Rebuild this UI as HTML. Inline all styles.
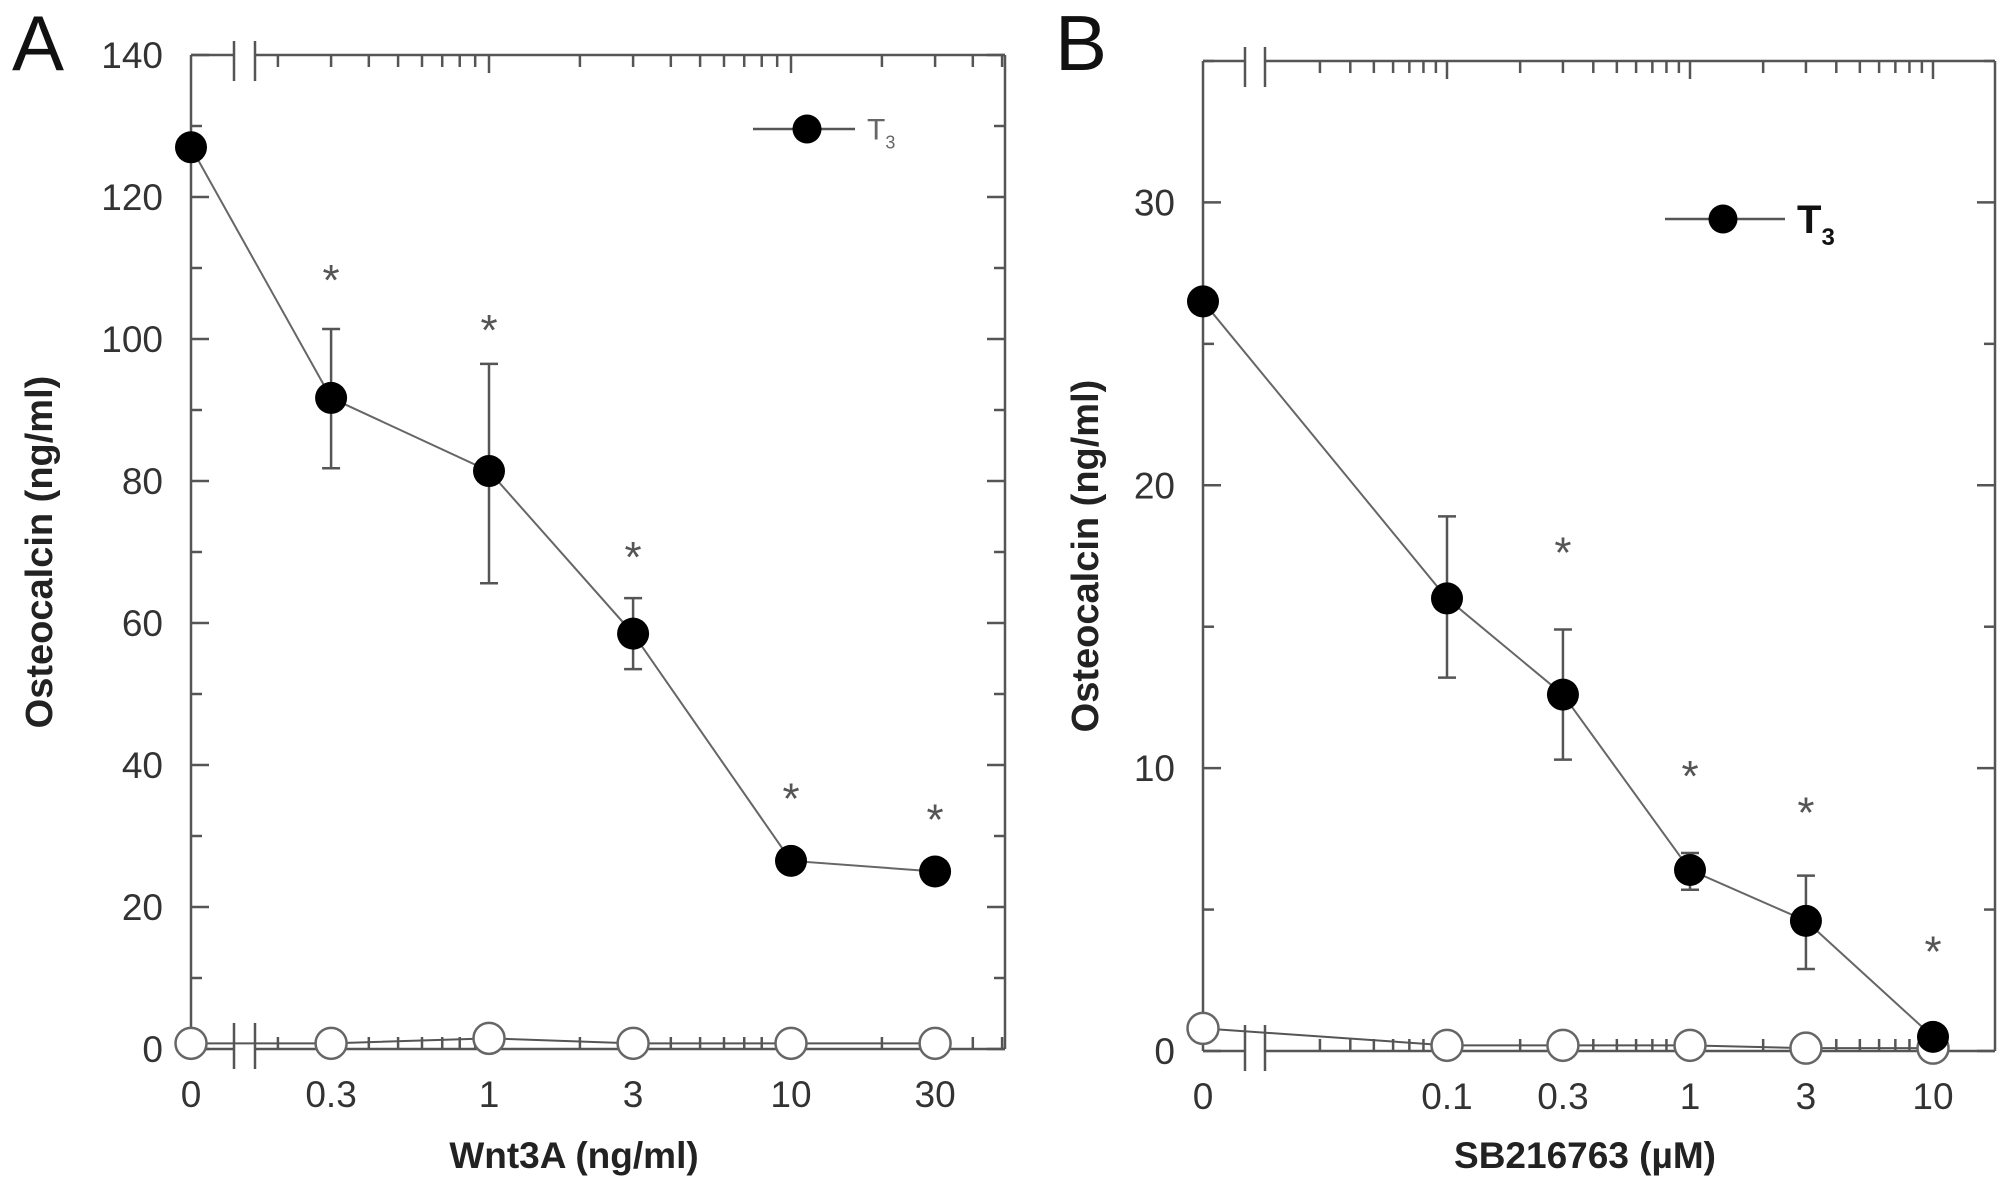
<!DOCTYPE html>
<html><head><meta charset="utf-8"><style>
html,body{margin:0;padding:0;background:#fff;}
svg{display:block;font-family:"Liberation Sans",Arial,sans-serif;}
</style></head><body>
<svg id="fig" width="2008" height="1189" viewBox="0 0 2008 1189" xmlns="http://www.w3.org/2000/svg"></svg>
<script>
// Panel A data
const aDoses = [0, 0.3, 1, 3, 10, 30];
const aTickLabels = ["0", "0.3", "1", "3", "10", "30"];
const aT3 = [127, 91.7, 81.4, 58.5, 26.5, 25];
const aT3Hi = [127, 101.4, 96.5, 63.5, 26.5, 25];
const aT3Lo = [127, 81.8, 65.6, 53.5, 26.5, 25];
const aCtrl = [0.8, 0.8, 1.5, 0.8, 0.8, 0.8];
const aStars = [null, 109, 102, 70, 36, 33];
const aYTicks = [0, 20, 40, 60, 80, 100, 120, 140];
// Panel B data
const bDoses = [0, 0.1, 0.3, 1, 3, 10];
const bTickLabels = ["0", "0.1", "0.3", "1", "3", "10"];
const bT3 = [26.5, 16, 12.6, 6.4, 4.6, 0.5];
const bT3Hi = [26.5, 18.9, 14.9, 7.0, 6.2, 0.5];
const bT3Lo = [26.5, 13.2, 10.3, 5.7, 2.9, 0.5];
const bCtrl = [0.8, 0.2, 0.2, 0.2, 0.1, 0.1];
const bStars = [null, null, 17.8, 9.9, 8.6, 3.7];
const bYTicks = [0, 10, 20, 30];

const NS = "http://www.w3.org/2000/svg";
const svg = document.getElementById("fig");
const AX = "#555";
function mk(tag, attrs, parent) {
  const e = document.createElementNS(NS, tag);
  for (const k in attrs) e.setAttribute(k, attrs[k]);
  (parent || svg).appendChild(e);
  return e;
}

function panel(o) {
  const g = mk("g", {});
  
  
  const L = o.left, R = o.right, T = o.top, B = o.bottom;
  const y = v => B - (v - 0) / o.ymax * (B - T);
  const x = d => d === 0 ? L : o.x1 + Math.log10(d) * o.dec;
  const ln = (x1, y1, x2, y2, w, c) => mk("line", {x1, y1, x2, y2, stroke: c || AX, "stroke-width": w || 2.5}, g);
  ln(L, T, L, B); ln(R, T, R, B);
  ln(L, T, o.b1, T); ln(o.b2, T, R, T);
  ln(L, B, o.b1, B); ln(o.b2, B, R, B);
  [o.b1, o.b2].forEach(bx => { ln(bx, T - 14, bx, T + 26); ln(bx, B - 26, bx, B + 20); });
  for (let v = 0; v <= o.ymax + 1e-9; v += o.yminor) {
    const major = o.yticks.some(t => Math.abs(t - v) < 1e-6);
    const len = major ? 18 : 11;
    ln(L, y(v), L + len, y(v)); ln(R, y(v), R - len, y(v));
  }
  o.yticks.forEach(t => {
    const tx = mk("text", {x: L - 28, y: y(t) + 13, "text-anchor": "end", "font-size": 37, fill: "#333"}, g);
    
    
    tx.textContent = t;
  });
  for (let e = -2; e <= 2; e++) for (let m = 1; m <= 9; m++) {
    const d = m * Math.pow(10, e);
    const px = x(d);
    if (px < o.b2 + 15 || px > R - 2) continue;
    const len = m === 1 ? 18 : 12;
    ln(px, B, px, B - len); ln(px, T, px, T + len);
  }
  o.doses.forEach((d, i) => {
    const tx = mk("text", {x: x(d), y: B + 58, "text-anchor": "middle", "font-size": 37, fill: "#333"}, g);
    
    
    tx.textContent = o.labels[i];
  });
  const xt = mk("text", {x: o.xtx, y: 1168, "text-anchor": "middle", "font-size": 37, "font-weight": "bold", fill: "#222"}, g);
  
  
  xt.textContent = o.xtitle;
  const yt = mk("text", {x: 0, y: 0, transform: `translate(${o.ytx},${(T + B) / 2}) rotate(-90)`, "text-anchor": "middle", "font-size": 38, "font-weight": "bold", fill: "#222"}, g);
  
  
  yt.textContent = "Osteocalcin (ng/ml)";
  const pl = mk("text", {x: o.letterX, y: 70, "font-size": 78, fill: "#111"}, g);
  
  
  pl.textContent = o.letter;
  const cpts = o.doses.map((d, i) => x(d) + "," + y(o.ctrl[i])).join(" ");
  const cl = mk("polyline", {points: cpts, fill: "none", stroke: AX, "stroke-width": 2}, g);
  
  
  const tpts = o.doses.map((d, i) => x(d) + "," + y(o.t3[i])).join(" ");
  const tl = mk("polyline", {points: tpts, fill: "none", stroke: "#666", "stroke-width": 2}, g);
  
  
  o.doses.forEach((d, i) => {
    if (o.hi[i] === o.lo[i]) return;
    const px = x(d);
    const eb = mk("g", {}, g);
    
    
    mk("line", {x1: px, y1: y(o.hi[i]), x2: px, y2: y(o.lo[i]), stroke: AX, "stroke-width": 2.5}, eb);
    mk("line", {x1: px - 9, y1: y(o.hi[i]), x2: px + 9, y2: y(o.hi[i]), stroke: AX, "stroke-width": 2.5}, eb);
    mk("line", {x1: px - 9, y1: y(o.lo[i]), x2: px + 9, y2: y(o.lo[i]), stroke: AX, "stroke-width": 2.5}, eb);
  });
  o.doses.forEach((d, i) => {
    const c = mk("circle", {cx: x(d), cy: y(o.ctrl[i]), r: 15.5, fill: "#fff", stroke: "#666", "stroke-width": 2.5}, g);
    
    
  });
  o.doses.forEach((d, i) => {
    const c = mk("circle", {cx: x(d), cy: y(o.t3[i]), r: 16, fill: "#000"}, g);
    
    
  });
  o.stars.forEach((s, i) => {
    if (s === null) return;
    const st = mk("text", {x: x(o.doses[i]), y: y(s) + 20, "text-anchor": "middle", "font-size": 44, fill: "#555"}, g);
    
    
    st.textContent = "*";
  });
  const lg = mk("g", {}, g);
  
  
  mk("line", {x1: o.lg.x1, y1: o.lg.y, x2: o.lg.x2, y2: o.lg.y, stroke: "#555", "stroke-width": 2.5}, lg);
  mk("circle", {cx: o.lg.cx, cy: o.lg.y, r: 14.5, fill: "#000"}, lg);
  const lt = mk("text", {x: o.lg.x2 + 12, y: o.lg.y + o.lg.fs * 0.35, "font-size": o.lg.fs, "font-weight": o.lg.bold ? "bold" : "normal", fill: o.lg.bold ? "#111" : "#666"}, lg);
  lt.textContent = "T";
  const sub = mk("tspan", {"font-size": o.lg.fs * 0.6, dy: o.lg.fs * 0.3}, lt);
  sub.textContent = "3";
}

panel({name: "panel-a", letter: "A", letterX: 12, left: 191, right: 1005, top: 55, bottom: 1049, ymax: 140, yminor: 10,
  yticks: aYTicks, x1: 489, dec: 302, b1: 234, b2: 255, doses: aDoses, labels: aTickLabels,
  t3: aT3, hi: aT3Hi, lo: aT3Lo, ctrl: aCtrl, stars: aStars, xtitle: "Wnt3A (ng/ml)", xtx: 574, ytx: 52,
  lg: {x1: 753, x2: 855, cx: 807, y: 129, fs: 30, bold: false}});
panel({name: "panel-b", letter: "B", letterX: 1055, left: 1203, right: 1995, top: 61, bottom: 1051, ymax: 35, yminor: 5,
  yticks: bYTicks, x1: 1690, dec: 243, b1: 1245, b2: 1265, doses: bDoses, labels: bTickLabels,
  t3: bT3, hi: bT3Hi, lo: bT3Lo, ctrl: bCtrl, stars: bStars, xtitle: "SB216763 (µM)", xtx: 1585, ytx: 1098,
  lg: {x1: 1665, x2: 1785, cx: 1723, y: 219, fs: 40, bold: true}});
</script>
</body></html>
